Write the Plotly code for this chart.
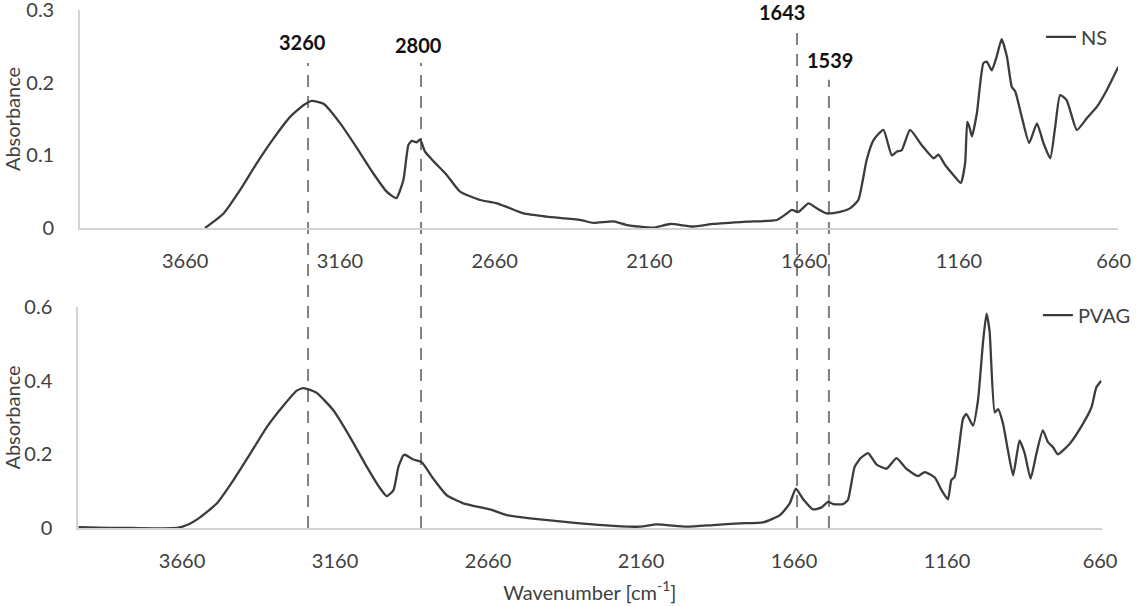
import plotly.graph_objects as go

# ---------------- data ----------------
ns_wavenumber = [3596, 3536, 3483, 3429, 3375, 3321, 3278, 3251, 3213, 3159, 3105, 3052, 3009, 2978,
                 2955, 2939, 2928, 2912, 2901, 2885, 2858, 2815, 2772, 2707, 2653, 2621, 2567, 2492,
                 2384, 2341, 2276, 2233, 2147, 2093, 2018, 1953, 1845, 1748, 1716, 1700, 1679, 1646,
                 1619, 1587, 1544, 1512, 1485, 1458, 1436, 1404, 1377, 1361, 1345, 1318, 1280, 1242,
                 1226, 1205, 1178, 1154, 1140, 1133, 1126, 1118, 1102, 1081, 1070, 1054, 1038, 1022,
                 1005, 989, 978, 957, 933, 908, 887, 865, 849, 833, 812, 779, 747, 714, 682, 645]
ns_absorbance = [0.000, 0.020, 0.052, 0.089, 0.123, 0.153, 0.169, 0.175, 0.171, 0.144, 0.110, 0.075,
                 0.050, 0.041, 0.066, 0.114, 0.120, 0.118, 0.122, 0.105, 0.092, 0.073, 0.050, 0.0385,
                 0.034, 0.029, 0.020, 0.0156, 0.011, 0.007, 0.009, 0.004, 0.0005, 0.0055, 0.002, 0.0055,
                 0.0087, 0.011, 0.020, 0.025, 0.022, 0.034, 0.027, 0.020, 0.022, 0.027, 0.0385, 0.094,
                 0.121, 0.135, 0.100, 0.105, 0.107, 0.135, 0.114, 0.096, 0.101, 0.087, 0.073, 0.062,
                 0.089, 0.146, 0.139, 0.126, 0.158, 0.227, 0.229, 0.217, 0.236, 0.260, 0.236, 0.194,
                 0.188, 0.153, 0.117, 0.144, 0.117, 0.096, 0.139, 0.183, 0.176, 0.135, 0.151, 0.167,
                 0.190, 0.222]

pvag_wavenumber = [3998, 3900, 3829, 3677, 3644, 3601, 3546, 3492, 3437, 3383, 3329, 3285, 3263, 3220,
                   3165, 3111, 3056, 3013, 2991, 2969, 2953, 2937, 2931, 2904, 2877, 2839, 2795, 2741,
                   2654, 2599, 2523, 2360, 2251, 2164, 2109, 2011, 1924, 1837, 1761, 1706, 1674, 1654,
                   1630, 1598, 1570, 1549, 1532, 1500, 1484, 1462, 1442, 1418, 1391, 1358, 1325, 1293,
                   1255, 1233, 1200, 1178, 1157, 1146, 1135, 1108, 1097, 1075, 1059, 1042, 1031, 1021,
                   1004, 993, 977, 961, 944, 923, 906, 887, 868, 847, 830, 814, 798, 759, 716, 688,
                   672, 656]
pvag_absorbance = [0.002, 0.000, 0.000, 0.000, 0.008, 0.029, 0.067, 0.130, 0.202, 0.274, 0.332, 0.373,
                   0.380, 0.367, 0.319, 0.247, 0.166, 0.108, 0.0865, 0.103, 0.166, 0.197, 0.199, 0.186,
                   0.179, 0.134, 0.089, 0.067, 0.0505, 0.035, 0.026, 0.0127, 0.006, 0.0035, 0.010,
                   0.0035, 0.008, 0.0127, 0.0154, 0.035, 0.067, 0.107, 0.078, 0.0505, 0.056, 0.071,
                   0.065, 0.065, 0.076, 0.166, 0.190, 0.2035, 0.173, 0.161, 0.190, 0.161, 0.141, 0.152,
                   0.137, 0.103, 0.078, 0.130, 0.139, 0.296, 0.310, 0.278, 0.346, 0.508, 0.582, 0.535,
                   0.314, 0.323, 0.283, 0.211, 0.143, 0.238, 0.202, 0.134, 0.202, 0.265, 0.233, 0.220,
                   0.200, 0.229, 0.283, 0.328, 0.382, 0.400]

x_tick_values = [3660, 3160, 2660, 2160, 1660, 1160, 660]
ns_y_ticks = [0, 0.1, 0.2, 0.3]
ns_y_labels = ["0", "0.1", "0.2", "0.3"]
pvag_y_ticks = [0, 0.2, 0.4, 0.6]
pvag_y_labels = ["0", "0.2", "0.4", "0.6"]

peak_labels = ["3260", "2800", "1643", "1539"]
peak_line_x = [3263, 2898, 1683, 1580]          # where the marker lines sit on the top axis
peak_line_top = [0.227, 0.227, 0.270, 0.204]    # top end of each line, NS absorbance units
peak_label_y = [0.256, 0.252, 0.297, 0.231]     # label centre, NS absorbance units
peak_label_dx = [-6, -3, -15, 1]

# ---------------- styling / geometry ----------------
FONT = "Lato, 'Open Sans', sans-serif"
TXT = "#404040"
LINE = "#3c3c3c"
AXIS = "#d4d4d4"
W, H = 1137, 606
TOP_DOM = [0.5792, 1.0]
BOT_DOM = [0.0, 0.4266]
span = TOP_DOM[1] - TOP_DOM[0]


def top_to_paper(v):
    return TOP_DOM[0] + v / 0.3 * span


fig = go.Figure()
fig.add_trace(go.Scatter(x=ns_wavenumber, y=ns_absorbance, mode="lines", name="NS", showlegend=True,
                         line=dict(color=LINE, width=2.3, shape="spline", smoothing=0.5),
                         xaxis="x", yaxis="y", legend="legend"))
fig.add_trace(go.Scatter(x=pvag_wavenumber, y=pvag_absorbance, mode="lines", name="PVAG", showlegend=True,
                         line=dict(color=LINE, width=2.3, shape="spline", smoothing=0.5),
                         xaxis="x2", yaxis="y2", legend="legend2"))

xcommon = dict(tickmode="array", tickvals=x_tick_values, ticktext=[str(v) for v in x_tick_values],
               showline=True, linecolor=AXIS, linewidth=1.5, showgrid=False, zeroline=False,
               ticks="", ticklabelstandoff=14, ticklabeloverflow="allow",
               tickfont=dict(family=FONT, size=20, color=TXT))
ycommon = dict(showline=True, linecolor=AXIS, linewidth=1.5, showgrid=False, zeroline=False,
               ticks="", ticklabelstandoff=20, ticklabeloverflow="allow",
               tickfont=dict(family=FONT, size=20, color=TXT), tickmode="array")

fig.update_layout(
    width=W, height=H,
    showlegend=True,
    margin=dict(l=78, r=19, t=10, b=78, autoexpand=False),
    paper_bgcolor="white", plot_bgcolor="white",
    font=dict(family=FONT, color=TXT),
    xaxis=dict(domain=[0.0019, 1.0], range=[4000, 646], anchor="y", **xcommon),
    yaxis=dict(domain=TOP_DOM, range=[0, 0.3001], anchor="x", tickvals=ns_y_ticks, ticktext=ns_y_labels,
               title=dict(text="Absorbance", font=dict(family=FONT, size=20, color=TXT), standoff=18),
               **ycommon),
    xaxis2=dict(domain=[0.0, 0.9842], range=[4000, 655], anchor="y2",
                title=dict(text="Wavenumber [cm<sup>-1</sup>]", font=dict(family=FONT, size=20, color=TXT),
                           standoff=15),
                **xcommon),
    yaxis2=dict(domain=BOT_DOM, range=[0, 0.6002], anchor="x2", tickvals=pvag_y_ticks, ticktext=pvag_y_labels,
                title=dict(text="Absorbance", font=dict(family=FONT, size=20, color=TXT), standoff=18),
                **ycommon),
    legend=dict(x=0.926, y=0.948, xanchor="left", yanchor="middle", itemwidth=30,
                bgcolor="rgba(0,0,0,0)", font=dict(family=FONT, size=20, color=TXT)),
    legend2=dict(x=0.923, y=0.411, xanchor="left", yanchor="middle", itemwidth=30,
                 bgcolor="rgba(0,0,0,0)", font=dict(family=FONT, size=20, color=TXT)),
)

# dashed marker lines spanning both panels
for lx, top in zip(peak_line_x, peak_line_top):
    fig.add_shape(type="line", xref="x", yref="paper", x0=lx, x1=lx,
                  y0=BOT_DOM[0], y1=top_to_paper(top),
                  line=dict(color="#7f7f7f", width=2, dash="12px,9px"), layer="below")

for lab, lx, ly, dx in zip(peak_labels, peak_line_x, peak_label_y, peak_label_dx):
    fig.add_annotation(x=lx, y=top_to_paper(ly), xref="x", yref="paper", text="<b>" + lab + "</b>",
                       showarrow=False, xshift=dx, xanchor="center", yanchor="middle",
                       font=dict(family=FONT, size=20, color="#111111"))

fig.write_html("out.html", config={"displayModeBar": False},
               post_script="document.body.style.margin='0px';")
